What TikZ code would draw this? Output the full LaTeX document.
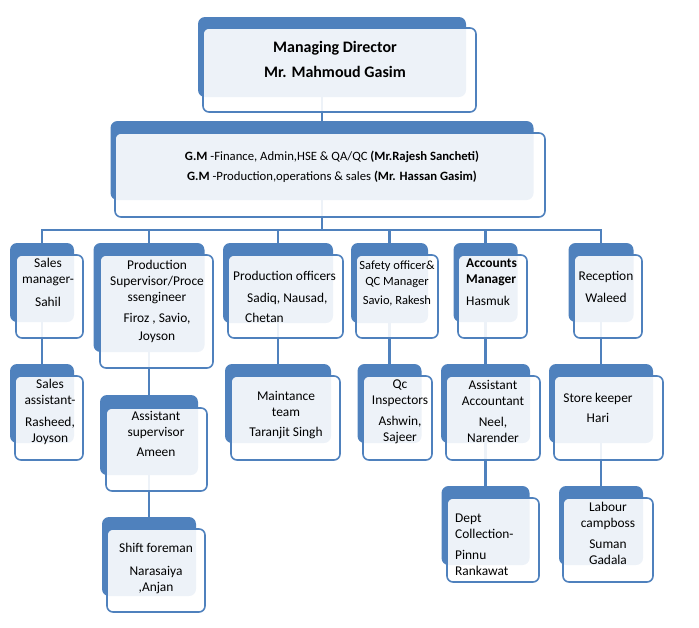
\documentclass[tikz,border=0pt]{standalone}
\usepackage{fontspec}
\setmainfont{Carlito}
\usetikzlibrary{backgrounds}
\definecolor{orgblue}{HTML}{4F81BD}
\tikzset{
  back/.style={fill=orgblue, rounded corners=7pt, inner sep=0pt, outer sep=0pt},
  front/.style={draw=orgblue, line width=1.6pt, rounded corners=6pt, fill=white, fill opacity=0.9, inner sep=0pt, outer sep=0pt},
  txt/.style={align=center, inner sep=0pt, font=\fontsize{13.4}{16}\selectfont},
  conn/.style={draw=orgblue, line width=2.4pt}
}
\begin{document}
\begin{tikzpicture}[x=1pt,y=-1pt]
    \useasboundingbox (0,0) rectangle (699,627);
    % managing director and general managers
    \node[back, minimum width=268, minimum height=80] (md) at (332,57) {};
    \node[front, minimum width=273, minimum height=84] (md-f) at (339.5,70) {};
    \node[txt, font=\fontsize{16}{18}\selectfont\bfseries] (md-t) at (335,59.5) {Managing Director\\[7pt]Mr. Mahmoud Gasim};
    \node[back, minimum width=423, minimum height=79] (gm) at (322,160.5) {};
    \node[front, minimum width=430, minimum height=84] (gm-f) at (330,175) {};
    \node[txt, font=\fontsize{12.7}{16}\selectfont] (gm-t) at (332,167) {\textbf{G.M} -Finance, Admin,HSE \& QA/QC \textbf{(Mr.Rajesh Sancheti)}\\[4pt]\textbf{G.M} -Production,operations \& sales \textbf{(Mr. Hassan Gasim)}};
    % first row
    \node[back, minimum width=64, minimum height=79] (sales) at (42,282.5) {};
    \node[front, minimum width=67, minimum height=83] (sales-f) at (49.5,296.5) {};
    \node[txt] (sales-t) at (48,282) {Sales\\manager-\\[7pt]Sahil};
    \node[back, minimum width=111, minimum height=109] (prodsup) at (149,297.5) {};
    \node[front, minimum width=113, minimum height=113] (prodsup-f) at (156.5,311.5) {};
    \node[txt] (prodsup-t) at (157,301.5) {Production\\Supervisor/Proce\\ssengineer\\[5pt]Firoz , Savio,\\[2pt]Joyson};
    \node[back, minimum width=110, minimum height=80] (prodoff) at (278,283) {};
    \node[front, minimum width=115, minimum height=83] (prodoff-f) at (285.5,296.5) {};
    \node[txt, align=left, anchor=west] (prodoff-t) at (233,297) {Production officers\\[6pt]\hspace*{14pt}Sadiq, Nausad,\\[4pt]\hspace*{12pt}Chetan};
    \node[back, minimum width=77, minimum height=80] (safety) at (389.5,283) {};
    \node[front, minimum width=82, minimum height=83] (safety-f) at (397,296.5) {};
    \node[txt, font=\fontsize{12.5}{16}\selectfont] (safety-t) at (397,283.5) {Safety officer\&\\QC Manager\\[3pt]Savio, Rakesh};
    \node[back, minimum width=64, minimum height=79] (acc) at (485.5,282.5) {};
    \node[front, minimum width=69, minimum height=83] (acc-f) at (492.5,296.5) {};
    \node[txt, align=left, anchor=west] (acc-t) at (466,282.5) {\textbf{Accounts}\\\textbf{Manager}\\[6pt]Hasmuk};
    \node[back, minimum width=65, minimum height=79] (recep) at (601,282.5) {};
    \node[front, minimum width=68, minimum height=83] (recep-f) at (608,296.5) {};
    \node[txt] (recep-t) at (606,287) {Reception\\[6pt]Waleed};
    % second row
    \node[back, minimum width=64, minimum height=79] (salesas) at (42,403.5) {};
    \node[front, minimum width=68, minimum height=84] (salesas-f) at (49,418) {};
    \node[txt] (salesas-t) at (50,411.5) {Sales\\assistant-\\[6pt]Rasheed,\\Joyson};
    \node[back, minimum width=98, minimum height=80] (asstsup) at (149,435) {};
    \node[front, minimum width=101, minimum height=83] (asstsup-f) at (156.5,449.5) {};
    \node[txt] (asstsup-t) at (156,434) {Assistant\\supervisor\\[4pt]Ameen};
    \node[back, minimum width=64, minimum height=79] (qc) at (389.5,403.5) {};
    \node[front, minimum width=69, minimum height=84] (qc-f) at (397.5,418) {};
    \node[txt] (qc-t) at (400,412) {Qc\\Inspectors\\[5pt]Ashwin,\\Sajeer};
    \node[back, minimum width=106, minimum height=79] (maint) at (278,403.5) {};
    \node[front, minimum width=109, minimum height=84] (maint-f) at (285.5,418) {};
    \node[txt] (maint-t) at (286,415.5) {Maintance\\team\\[4pt]Taranjit Singh};
    \node[back, minimum width=89, minimum height=79] (asstacc) at (485.5,403.5) {};
    \node[front, minimum width=94, minimum height=84] (asstacc-f) at (493,418) {};
    \node[txt] (asstacc-t) at (493,411.5) {Assistant\\Accountant\\[5pt]Neel,\\Narender};
    \node[back, minimum width=104, minimum height=79] (store) at (601,403.5) {};
    \node[front, minimum width=109, minimum height=84] (store-f) at (608.5,418) {};
    \node[txt] (store-t) at (598,408) {Store keeper\\[4pt]Hari};
    % third row
    \node[back, minimum width=94, minimum height=79] (shift) at (149,556.5) {};
    \node[front, minimum width=98, minimum height=83] (shift-f) at (156,570.5) {};
    \node[txt] (shift-t) at (156,568.5) {Shift foreman\\[7pt]Narasaiya\\,Anjan};
    \node[back, minimum width=88, minimum height=79] (dept) at (485.5,525.5) {};
    \node[front, minimum width=92, minimum height=84] (dept-f) at (493,540) {};
    \node[txt, align=left, anchor=west] (dept-t) at (455,544.5) {Dept\\Collection-\\[5pt]Pinnu\\Rankawat};
    \node[back, minimum width=84, minimum height=79] (labour) at (601,525.5) {};
    \node[front, minimum width=90, minimum height=84] (labour-f) at (608,540) {};
    \node[txt] (labour-t) at (608,533.5) {Labour\\campboss\\[5pt]Suman\\Gadala};
    % connectors behind the boxes
    \begin{scope}[on background layer]
        \coordinate (bus) at (322,230);
        \draw[conn] (gm |- md) -- (bus);
        \foreach \n in {sales,prodsup,prodoff,safety,acc,recep} \draw[conn] (bus) -| (\n);
        \draw[conn] (sales) -- (salesas);
        \draw[conn] (prodsup) -- (asstsup) -- (shift);
        \draw[conn] (prodoff) -- (maint);
        \draw[conn] (safety) -- (qc);
        \draw[conn] (acc) -- (asstacc) -- (dept);
        \draw[conn] (recep) -- (store) -- (labour);
    \end{scope}
\end{tikzpicture}
\end{document}
